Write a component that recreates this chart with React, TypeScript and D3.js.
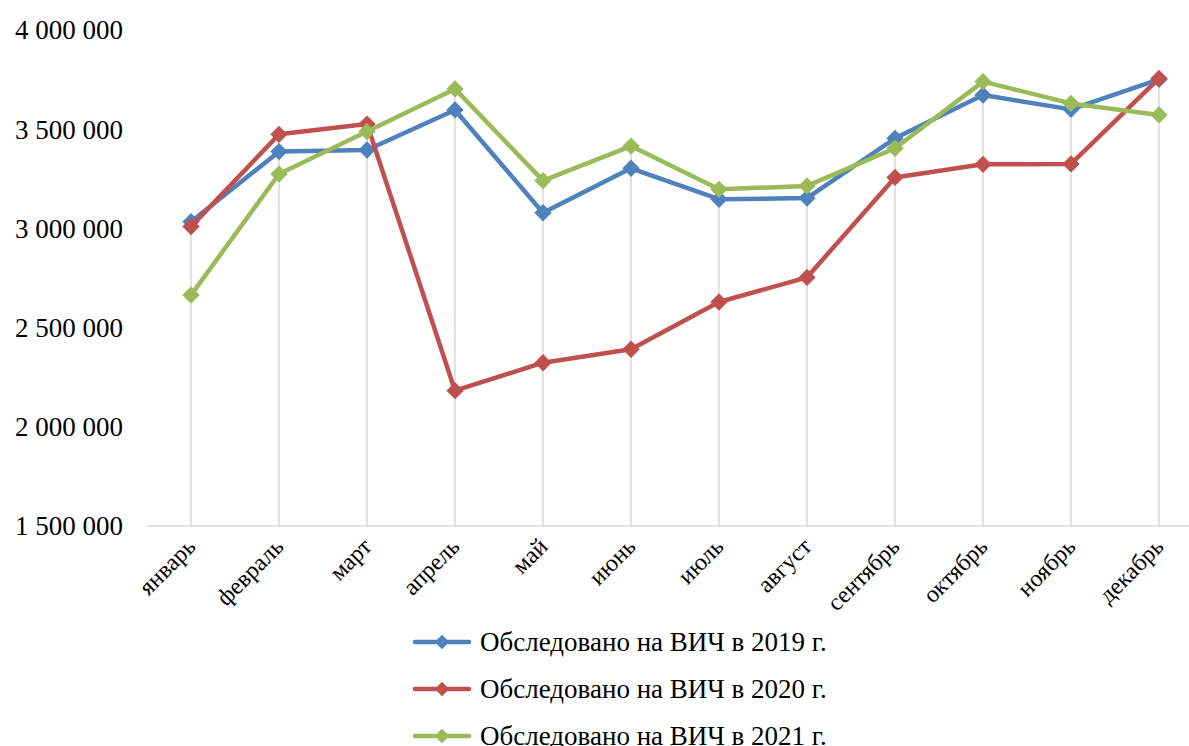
import { useMemo } from "react";
import { scaleLinear, scalePoint, line, symbol, symbolSquare } from "d3";

const months = [
  "январь",
  "февраль",
  "март",
  "апрель",
  "май",
  "июнь",
  "июль",
  "август",
  "сентябрь",
  "октябрь",
  "ноябрь",
  "декабрь",
];

const tested2019 = [3034000, 3387000, 3395000, 3597000, 3079000, 3303000, 3147000, 3153000, 3454000, 3672000, 3600000, 3751000];
const tested2020 = [3009000, 3474000, 3526000, 2182000, 2323000, 2391000, 2629000, 2753000, 3257000, 3323000, 3325000, 3756000];
const tested2021 = [2664000, 3274000, 3488000, 3703000, 3241000, 3415000, 3197000, 3214000, 3404000, 3740000, 3630000, 3572000];

const yTicks = [1500000, 2000000, 2500000, 3000000, 3500000, 4000000];

const seriesNames = [
  "Обследовано на ВИЧ в 2019 г.",
  "Обследовано на ВИЧ в 2020 г.",
  "Обследовано на ВИЧ в 2021 г.",
];
const seriesColors = ["#4F81BD", "#C0504D", "#9BBB59"];

const WIDTH = 1189;
const HEIGHT = 746;
const plotLeft = 147;
const plotRight = 1203;
const plotTop = 30;
const plotBottom = 526;
const font = "Liberation Serif, Times New Roman, serif";

const fmt = (v: number) => String(v).replace(/\B(?=(\d{3})+(?!\d))/g, " ");

export default function App() {
  const series = [tested2019, tested2020, tested2021];

  const x = useMemo(
    () => scalePoint<string>().domain(months).range([plotLeft, plotRight]).padding(0.5),
    []
  );
  const y = useMemo(
    () => scaleLinear().domain([1500000, 4000000]).range([plotBottom, plotTop]),
    []
  );

  const path = line<number>()
    .x((_, i) => x(months[i]) as number)
    .y((d) => y(d));

  // square turned 45deg = the Excel diamond marker
  const marker = symbol().type(symbolSquare).size(150)() as string;
  const legendMarker = symbol().type(symbolSquare).size(105)() as string;

  return (
    <svg
      width={WIDTH}
      height={HEIGHT}
      style={{ position: "absolute", left: 0, top: 0, background: "#fff", fontFamily: font }}
    >
      {/* drop lines from the highest point down to the axis */}
      {months.map((m, i) => {
        const top = Math.max(...series.map((s) => s[i]));
        return (
          <line
            key={`drop-${m}`}
            x1={x(m)}
            x2={x(m)}
            y1={y(top)}
            y2={plotBottom}
            stroke="#D9D9D9"
            strokeWidth={1.5}
          />
        );
      })}

      <line x1={plotLeft} x2={plotRight} y1={plotBottom} y2={plotBottom} stroke="#D9D9D9" strokeWidth={1.5} />

      {yTicks.map((t) => (
        <text key={t} x={123} y={y(t)} dy="0.35em" textAnchor="end" fontSize={27} fill="#000">
          {fmt(t)}
        </text>
      ))}

      {months.map((m) => (
        <text
          key={`lab-${m}`}
          transform={`translate(${(x(m) as number) + 6}, ${plotBottom + 22}) rotate(-45)`}
          textAnchor="end"
          fontSize={24}
          fill="#000"
        >
          {m}
        </text>
      ))}

      {series.map((s, k) => (
        <g key={`s-${k}`}>
          <path d={path(s) as string} fill="none" stroke={seriesColors[k]} strokeWidth={4.5} strokeLinejoin="round" />
          {s.map((v, i) => (
            <path
              key={i}
              d={marker}
              transform={`translate(${x(months[i])}, ${y(v)}) rotate(45)`}
              fill={seriesColors[k]}
            />
          ))}
        </g>
      ))}

      {seriesNames.map((name, k) => {
        const ly = 642 + k * 47;
        return (
          <g key={name}>
            <line x1={415} x2={469} y1={ly} y2={ly} stroke={seriesColors[k]} strokeWidth={4.5} strokeLinecap="round" />
            <path d={legendMarker} transform={`translate(442, ${ly}) rotate(45)`} fill={seriesColors[k]} />
            <text x={480} y={ly} dy="0.33em" fontSize={27} fill="#000">
              {name}
            </text>
          </g>
        );
      })}
    </svg>
  );
}
